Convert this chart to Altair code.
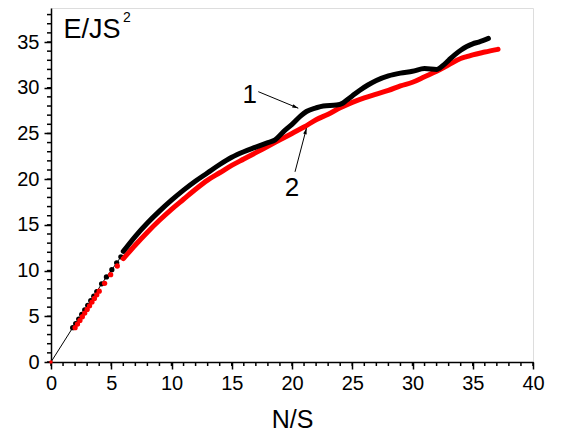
import altair as alt
import pandas as pd

# ---- data ----
# curve 1 (black): discrete points at small N/S, then a continuous thick line
black_dot_x = [1.8, 2.05, 2.3, 2.55, 2.8, 3.05, 3.3, 3.55, 3.8, 4.2, 4.6, 5.05, 5.45, 5.8]
black_dot_y = [3.75, 4.2, 4.7, 5.2, 5.7, 6.2, 6.7, 7.2, 7.7, 8.55, 9.3, 10.1, 10.85, 11.5]
black_line_x = [6.0, 7.0, 8.0, 9.0, 10.0, 11.0, 12.0, 13.0, 14.0, 15.0, 16.0, 17.0, 18.0, 18.6,
                19.3, 20.0, 20.7, 21.2, 22.0, 22.6, 23.7, 24.2, 24.5, 25.0, 25.6, 26.3, 27.0,
                28.0, 29.0, 30.0, 31.0, 32.0, 32.5, 33.0, 33.5, 34.0, 34.5, 35.0, 35.5, 36.3]
black_line_y = [12.1, 13.75, 15.2, 16.5, 17.7, 18.8, 19.8, 20.7, 21.6, 22.4, 23.0, 23.5, 24.0, 24.3,
                25.2, 26.0, 26.9, 27.4, 27.8, 28.0, 28.1, 28.3, 28.6, 29.1, 29.7, 30.3, 30.8,
                31.3, 31.6, 31.8, 32.1, 32.0, 32.4, 33.0, 33.6, 34.1, 34.5, 34.8, 35.0, 35.4]

# curve 2 (red)
red_dot_x = [0.0, 2.0, 2.2, 2.4, 2.6, 2.8, 3.0, 3.2, 3.4, 3.6, 3.8, 4.0, 4.45, 4.95, 5.5]
red_dot_y = [0.0, 3.75, 4.15, 4.55, 4.95, 5.35, 5.75, 6.15, 6.55, 6.95, 7.35, 7.75, 8.6, 9.55, 10.5]
red_line_x = [6.0, 7.0, 8.0, 9.0, 10.0, 11.0, 12.0, 13.0, 14.0, 15.0, 16.0, 17.0, 18.0, 19.0,
              20.0, 21.0, 22.0, 23.0, 24.0, 25.0, 26.0, 27.0, 28.0, 29.0, 30.0, 31.0, 32.0,
              33.0, 34.0, 34.5, 35.0, 36.0, 37.1]
red_line_y = [11.3, 12.8, 14.2, 15.5, 16.7, 17.8, 18.9, 19.9, 20.7, 21.5, 22.2, 22.9, 23.6, 24.3,
              25.0, 25.7, 26.5, 27.1, 27.8, 28.4, 28.9, 29.3, 29.7, 30.2, 30.6, 31.2, 31.8,
              32.5, 33.2, 33.4, 33.6, 33.9, 34.2]

# annotation labels and arrows (data coordinates)
label_text = ["1", "2"]
label_x = [16.5, 20.0]
label_y = [29.2, 19.0]
arrow_x0 = [17.2, 20.25]
arrow_y0 = [29.57, 20.8]
arrow_x1 = [20.52, 21.2]
arrow_y1 = [27.76, 25.57]
arrow_angle = [112.4, 14.7]

x_major = [0, 5, 10, 15, 20, 25, 30, 35, 40]
y_major = [0, 5, 10, 15, 20, 25, 30, 35]
x_minor = list(range(0, 41))
y_minor = list(range(0, 39))

FONT = "Liberation Sans"

thin_df = pd.DataFrame({"x": [0.0] + black_dot_x, "y": [0.0] + black_dot_y})
bdots = pd.DataFrame({"x": black_dot_x, "y": black_dot_y})
rdots = pd.DataFrame({"x": red_dot_x[1:], "y": red_dot_y[1:]})
rorigin = pd.DataFrame({"x": red_dot_x[:1], "y": red_dot_y[:1]})
bline = pd.DataFrame({"x": black_line_x, "y": black_line_y})
rline = pd.DataFrame({"x": red_line_x, "y": red_line_y})
labels = pd.DataFrame({"t": label_text, "x": label_x, "y": label_y})
arrows = pd.DataFrame({"x": arrow_x0, "y": arrow_y0, "x2": arrow_x1, "y2": arrow_y1, "a": arrow_angle})
xminor_df = pd.DataFrame({"x": x_minor})
yminor_df = pd.DataFrame({"y": y_minor})

xscale = alt.Scale(domain=[0, 40], nice=False, zero=False)
yscale = alt.Scale(domain=[0, 38.72], nice=False, zero=False)

xaxis = alt.Axis(
    values=x_major, title="N/S", grid=False, tickSize=7,
    labelFlush=False, labelOverlap=False,
    labelFont=FONT, labelFontSize=20, labelColor="black", labelPadding=4,
    titleFont=FONT, titleFontSize=25, titleFontWeight="normal", titleColor="black",
    titleBaseline="alphabetic", titleY=65,
    domainColor="black", domainWidth=1.5, tickColor="black", tickWidth=1.5,
)
yaxis = alt.Axis(
    values=y_major, title="E/JS", grid=False, tickSize=7,
    labelFlush=False, labelOverlap=False,
    labelFont=FONT, labelFontSize=20, labelColor="black", labelPadding=5,
    titleFont=FONT, titleFontSize=27, titleFontWeight="normal", titleColor="black",
    titleAngle=0, titleAlign="left", titleBaseline="alphabetic", titleX=12, titleY=29,
    domainColor="black", domainWidth=1.5, tickColor="black", tickWidth=1.5,
)

X = alt.X("x:Q", scale=xscale, axis=xaxis)
Y = alt.Y("y:Q", scale=yscale, axis=yaxis)

thin = alt.Chart(thin_df).mark_line(color="black", strokeWidth=1).encode(x=X, y=Y)
xmin = alt.Chart(xminor_df).mark_rule(color="black", strokeWidth=1.5).encode(
    x="x:Q", y=alt.value(354), y2=alt.value(358))
ymin = alt.Chart(yminor_df).mark_rule(color="black", strokeWidth=1.5).encode(
    y="y:Q", x=alt.value(0), x2=alt.value(-4))
bd = alt.Chart(bdots).mark_circle(color="black", size=28, opacity=1).encode(x="x:Q", y="y:Q")
rd = alt.Chart(rdots).mark_circle(color="#ff0000", size=28, opacity=1).encode(x="x:Q", y="y:Q")
ro = alt.Chart(rorigin).mark_circle(color="#ff0000", size=12, opacity=1).encode(x="x:Q", y="y:Q")
rl = alt.Chart(rline).mark_line(color="#ff0000", strokeWidth=5, strokeCap="round",
                                strokeJoin="round", interpolate="monotone").encode(x="x:Q", y="y:Q")
bl = alt.Chart(bline).mark_line(color="black", strokeWidth=5, strokeCap="round",
                                strokeJoin="round", interpolate="monotone").encode(x="x:Q", y="y:Q")
shafts = alt.Chart(arrows).mark_rule(color="black", strokeWidth=1).encode(
    x="x:Q", y="y:Q", x2="x2:Q", y2="y2:Q")
heads = alt.Chart(arrows).mark_point(
    shape="M0,0L0.6,2L-0.6,2Z", filled=True, color="black", size=36, opacity=1
).encode(x="x2:Q", y="y2:Q", angle=alt.Angle("a:Q", scale=None))
txt = alt.Chart(labels).mark_text(font=FONT, fontSize=26, color="black",
                                  align="center", baseline="middle").encode(
    x="x:Q", y="y:Q", text="t:N")
sup = alt.Chart(pd.DataFrame({"t": ["2"]})).mark_text(
    font=FONT, fontSize=14, color="black", align="left", baseline="top"
).encode(x=alt.value(72), y=alt.value(3), text="t:N")

chart = alt.layer(thin, xmin, ymin, bd, rd, ro, rl, bl, shafts, heads, txt, sup).properties(
    width=482, height=354,
    padding={"left": 43, "top": 0, "right": 16, "bottom": 71},
    autosize=alt.AutoSizeParams(type="none"),
).configure_view(stroke=None).configure(background="white")

chart.save("out.html", embed_options={"renderer": "svg", "actions": False})
